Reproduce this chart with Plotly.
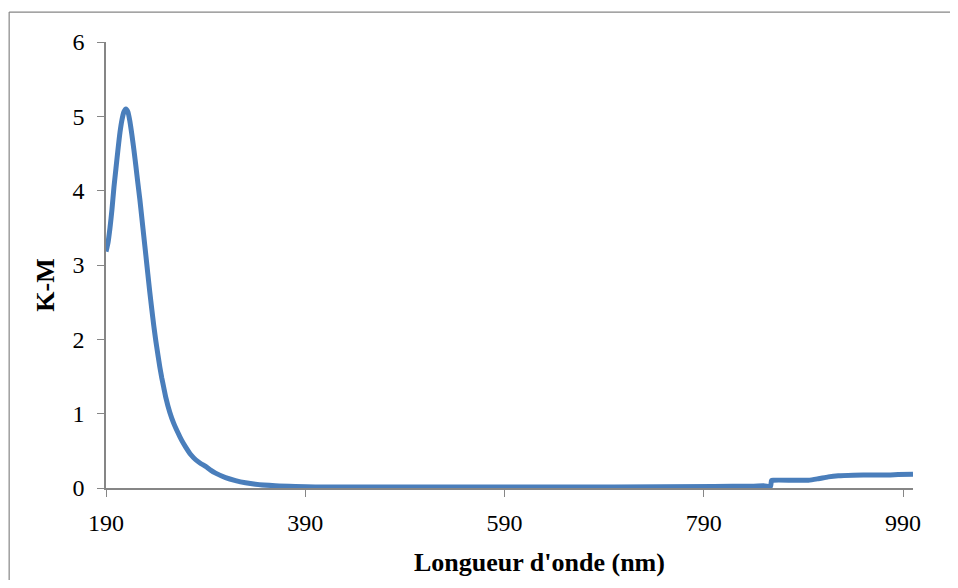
import plotly.graph_objects as go

# Kubelka-Munk spectrum
wavelength = [
    190, 192, 194, 196, 198, 200, 202, 204, 206, 208, 210, 212, 214, 216, 218,
    220, 222, 224, 226, 228, 230, 232, 234, 236, 238, 240, 242, 244, 246, 248,
    250, 254, 258, 262, 266, 270, 275, 280, 285, 290, 295, 300, 310, 320, 330,
    340, 360, 380, 400, 500, 600, 700, 800, 840, 850, 855, 857, 858, 860, 880,
    895, 905, 915, 925, 940, 960, 975, 985, 1000,
]
km = [
    3.18, 3.30, 3.50, 3.75, 4.05, 4.30, 4.55, 4.78, 4.95, 5.06, 5.10, 5.06, 4.93, 4.75, 4.55,
    4.33, 4.10, 3.88, 3.63, 3.38, 3.13, 2.88, 2.63, 2.40, 2.18, 1.98, 1.80, 1.63, 1.48, 1.35,
    1.22, 1.02, 0.87, 0.75, 0.64, 0.55, 0.45, 0.38, 0.33, 0.29, 0.24, 0.20, 0.14, 0.10, 0.07,
    0.05, 0.03, 0.02, 0.015, 0.015, 0.015, 0.015, 0.02, 0.025, 0.03, 0.02, 0.02, 0.10, 0.105, 0.105,
    0.105, 0.125, 0.15, 0.165, 0.172, 0.175, 0.175, 0.18, 0.185,
]
x_ticks = [190, 390, 590, 790, 990]
y_ticks = [0, 1, 2, 3, 4, 5, 6]

FONT = "Liberation Serif, Times New Roman, serif"
GRAY = "#868686"

fig = go.Figure()
fig.add_trace(
    go.Scatter(
        x=wavelength,
        y=km,
        mode="lines",
        line=dict(color="#4A7EBB", width=5, shape="spline", smoothing=0.6),
        showlegend=False,
    )
)

# chart-area frame: only left and top edges fall inside the picture
frame = dict(color=GRAY, width=1.2)

# page body has an 8px default margin, so the figure is drawn 8px smaller
fig.update_layout(
    width=950,
    height=572,
    margin=dict(l=98, r=45, t=34, b=92),
    plot_bgcolor="#FFFFFF",
    paper_bgcolor="#FFFFFF",
    font=dict(family=FONT, color="#000000", size=24),
    shapes=[
        dict(type="line", xref="paper", yref="paper",
             x0=-0.12, x1=-0.12, y0=-0.3, y1=1.067, line=frame, layer="below"),
        dict(type="line", xref="paper", yref="paper",
             x0=-0.12, x1=1.2, y0=1.067, y1=1.067, line=frame, layer="below"),
    ],
    annotations=[
        dict(
            text="<b>Longueur d'onde (nm)</b>",
            xref="paper", yref="paper", x=0.537, y=-0.168,
            xanchor="center", yanchor="middle",
            showarrow=False, font=dict(size=26, family=FONT),
        ),
        dict(
            text="<b>K-M</b>",
            xref="paper", yref="paper", x=-0.076, y=0.455,
            xanchor="center", yanchor="middle",
            textangle=-90, showarrow=False, font=dict(size=26, family=FONT),
        ),
    ],
)
fig.update_xaxes(
    range=[190, 1000],
    tickmode="array",
    tickvals=x_ticks,
    ticks="outside",
    ticklen=7,
    tickcolor=GRAY,
    showline=True,
    linecolor=GRAY,
    linewidth=1.5,
    showgrid=False,
    zeroline=False,
    ticklabelstandoff=5,
)
fig.update_yaxes(
    range=[0, 6],
    tickmode="array",
    tickvals=y_ticks,
    ticks="outside",
    ticklen=7,
    tickcolor=GRAY,
    showline=True,
    linecolor=GRAY,
    linewidth=1.5,
    showgrid=False,
    zeroline=False,
    ticklabelstandoff=8,
)

fig.write_html("out.html")
